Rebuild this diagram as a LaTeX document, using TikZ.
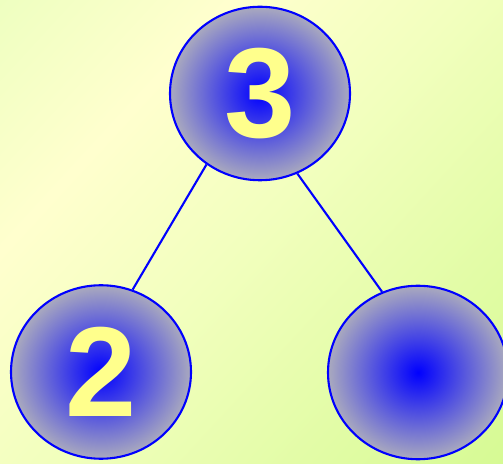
\documentclass[tikz,border=0pt]{standalone}
\usepackage{fontspec}
\setmainfont{Liberation Sans}
\usetikzlibrary{shapes.geometric}
\definecolor{bgA}{RGB}{238,255,192}
\definecolor{bgB}{RGB}{255,255,206}
\definecolor{bgC}{RGB}{242,255,190}
\definecolor{bgD}{RGB}{214,250,148}
\definecolor{balledge}{RGB}{170,170,190}
\definecolor{digit}{RGB}{255,255,140}
\pgfdeclarehorizontalshading{bgshade}{760bp}{color(0bp)=(bgA); color(170bp)=(bgB); color(340bp)=(bgC); color(682bp)=(bgD)}
\begin{document}
\begin{tikzpicture}[x=1pt,y=1pt,
  ball/.style={ellipse, draw=blue, line width=2.1pt, minimum width=180pt, minimum height=173.5pt,
    inner color=blue, outer color=balledge, inner sep=0pt, text=digit,
    font=\fontsize{128}{128}\selectfont\bfseries},
  link/.style={draw=blue, line width=2.1pt}]
\useasboundingbox (0,0) rectangle (503,463);
\begin{scope}
\clip (0,0) rectangle (503,463);
\node[inner sep=0pt, rotate=-42.6] (bg) at (251.5,231.5) {\pgfuseshading{bgshade}};
\node[ball] (top) at (260,369.5) {3};
\node[ball] (left) at (101,91) {2};
\node[ball] (right) at (418,90.5) {};
\end{scope}
\draw[link] (top.233.6) -- (left.69.7);
\draw[link] (top.295.6) -- (right.114.6);
\end{tikzpicture}
\end{document}
